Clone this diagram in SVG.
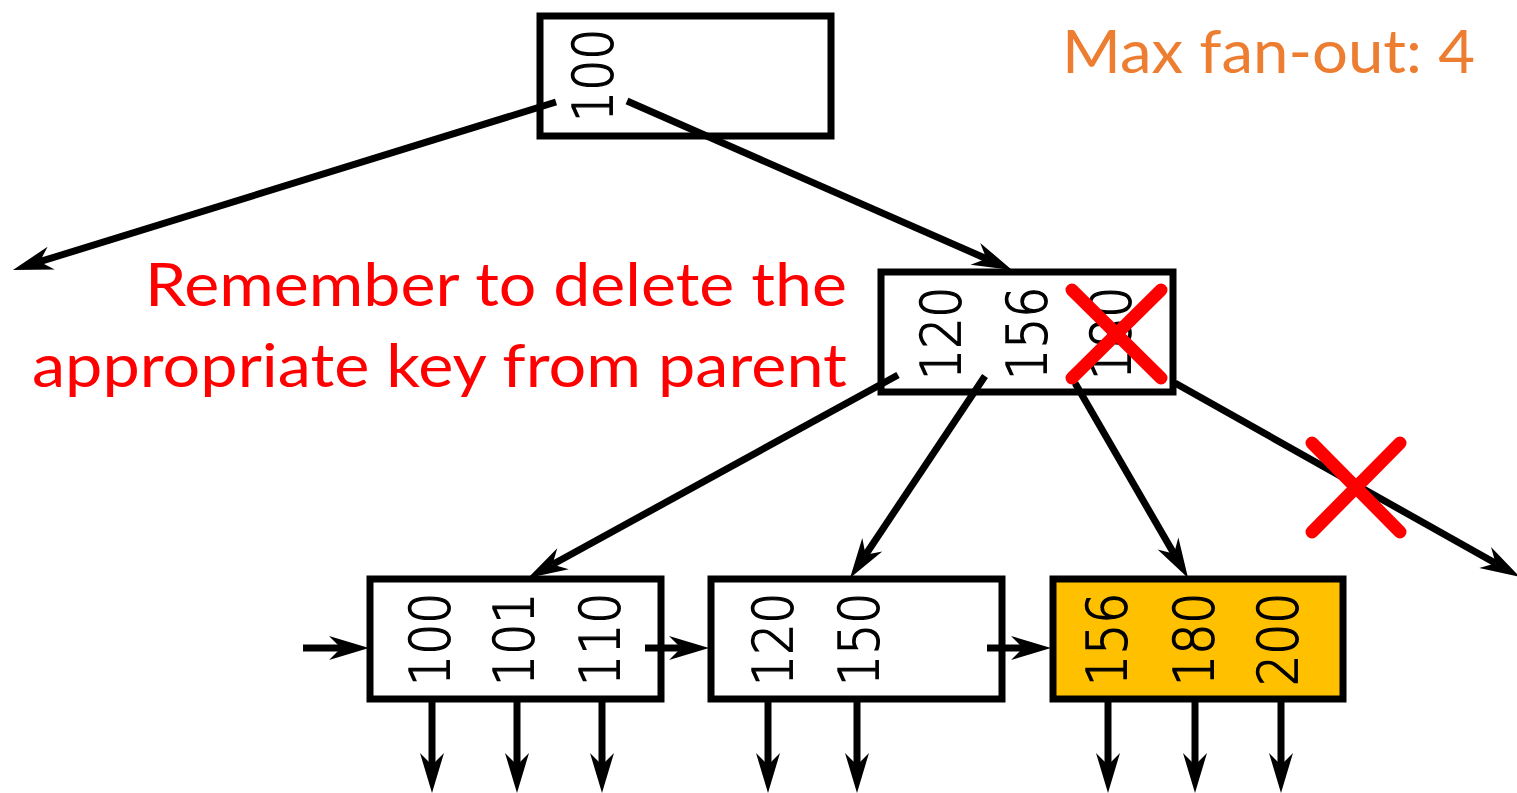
<svg xmlns="http://www.w3.org/2000/svg" width="1517" height="793" viewBox="0 0 1517 793">
<style>
.box{fill:#fff;stroke:#000;stroke-width:7}
.hl{fill:#FFC000}
.k{font-family:"DejaVu Sans",sans-serif;font-size:49px;font-weight:200;fill:#000;stroke:#000;stroke-width:1.3}
.c line{stroke:#000;stroke-width:7;marker-end:url(#ah)}
.x{stroke:#FF0000;stroke-width:13;stroke-linecap:round}
.note{font-family:Lato,"Open Sans",sans-serif;font-size:60px;fill:#FF0000}
.fan{font-family:Lato,"Open Sans",sans-serif;font-size:60px;fill:#ED7D31}
</style>
<defs>
<marker id="ah" markerUnits="userSpaceOnUse" markerWidth="60" markerHeight="40" viewBox="-5 -20 60 40" refX="12" refY="0" orient="auto" overflow="visible">
<path d="M40,0 L0,-12 L12,0 L0,12 Z" fill="#000"/>
</marker>
</defs>
<rect width="1517" height="793" fill="#fff"/>
<g id="root">
<rect class="box" x="540" y="16" width="291" height="120"/>
<text class="k" transform="translate(612,122) rotate(-90) scale(1,1.13)">100</text>
</g>
<g id="inner">
<rect class="box" x="881" y="272" width="292" height="120"/>
<text class="k" transform="translate(960,380) rotate(-90) scale(1,1.13)">120</text>
<text class="k" transform="translate(1046,380) rotate(-90) scale(1,1.13)">156</text>
<text class="k" transform="translate(1130,380) rotate(-90) scale(1,1.13)">180</text>
</g>
<g id="leaf1">
<rect class="box" x="370" y="579" width="291" height="120"/>
<text class="k" transform="translate(449,686) rotate(-90) scale(1,1.13)">100</text>
<text class="k" transform="translate(533,686) rotate(-90) scale(1,1.13)">101</text>
<text class="k" transform="translate(619,686) rotate(-90) scale(1,1.13)">110</text>
</g>
<g id="leaf2">
<rect class="box" x="711" y="579" width="291" height="120"/>
<text class="k" transform="translate(792,686) rotate(-90) scale(1,1.13)">120</text>
<text class="k" transform="translate(878,686) rotate(-90) scale(1,1.13)">150</text>
</g>
<g id="leaf3">
<rect class="box hl" x="1053" y="579" width="290" height="120"/>
<text class="k" transform="translate(1126,686) rotate(-90) scale(1,1.13)">156</text>
<text class="k" transform="translate(1213,686) rotate(-90) scale(1,1.13)">180</text>
<text class="k" transform="translate(1297,686) rotate(-90) scale(1,1.13)">200</text>
</g>
<g id="connectors" class="c">
<line x1="556" y1="102" x2="39.7" y2="261.7"/>
<line x1="627" y1="101" x2="986.4" y2="258.7"/>
<line x1="898" y1="375" x2="552.5" y2="564.5"/>
<line x1="985" y1="376" x2="865.6" y2="554.7"/>
<line x1="1075" y1="383" x2="1174" y2="553.8"/>
<line x1="1175" y1="383" x2="1495.6" y2="563.3"/>
<line x1="303" y1="648" x2="341" y2="648"/>
<line x1="645" y1="648" x2="681" y2="648"/>
<line x1="987" y1="648" x2="1023" y2="648"/>
<line x1="432" y1="697" x2="432" y2="765"/>
<line x1="517" y1="697" x2="517" y2="765"/>
<line x1="602" y1="697" x2="602" y2="765"/>
<line x1="768" y1="697" x2="768" y2="765"/>
<line x1="857" y1="697" x2="857" y2="765"/>
<line x1="1108" y1="697" x2="1108" y2="765"/>
<line x1="1195" y1="697" x2="1195" y2="765"/>
<line x1="1281" y1="697" x2="1281" y2="765"/>
</g>
<g id="cross1">
<line class="x" x1="1072" y1="290" x2="1161" y2="378"/>
<line class="x" x1="1161" y1="290" x2="1072" y2="378"/>
</g>
<g id="cross2">
<line class="x" x1="1312" y1="443" x2="1400" y2="532"/>
<line class="x" x1="1400" y1="443" x2="1312" y2="532"/>
</g>
<g id="labels">
<text class="note" x="847" y="306" text-anchor="end" textLength="702" lengthAdjust="spacingAndGlyphs">Remember to delete the</text>
<text class="note" x="847" y="387" text-anchor="end" textLength="815" lengthAdjust="spacingAndGlyphs">appropriate key from parent</text>
<text class="fan" x="1062" y="73" textLength="413" lengthAdjust="spacingAndGlyphs">Max fan-out: 4</text>
</g>
</svg>
